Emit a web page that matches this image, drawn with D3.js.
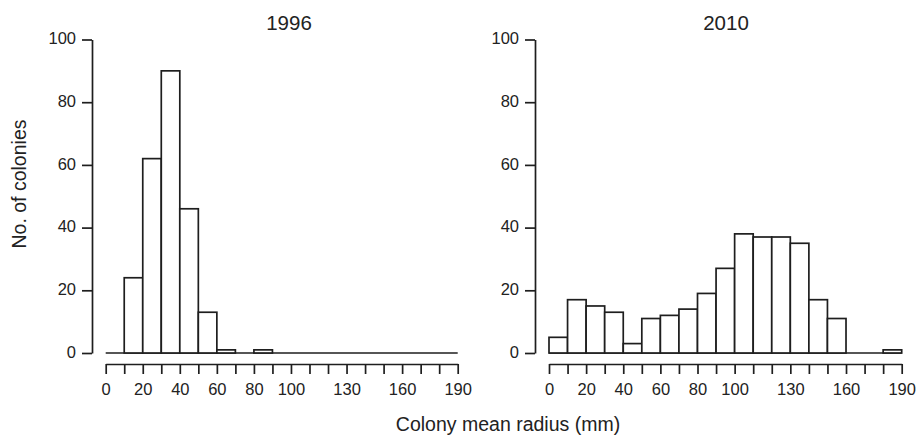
<!DOCTYPE html>
<html>
<head>
<meta charset="utf-8">
<script src="https://cdn.jsdelivr.net/npm/d3@7"></script>
<style>
  html, body { margin: 0; padding: 0; background: #fff; }
  svg { display: block; }
  text { font-family: "Liberation Sans", Arial, Helvetica, sans-serif; fill: #222; }
</style>
</head>
<body>
<svg id="chart" width="917" height="436"></svg>
<script>
// ---- data ----
const binEdges = d3.range(0, 200, 10);          // 0,10,...,190
const counts1996 = [0, 24, 62, 90, 46, 13, 1, 0, 1, 0, 0, 0, 0, 0, 0, 0, 0, 0, 0];
const counts2010 = [5, 17, 15, 13, 3, 11, 12, 14, 19, 27, 38, 37, 37, 35, 17, 11, 0, 0, 1];
const xTickValues = d3.range(0, 200, 10);
const xTickLabels = [0, 20, 40, 60, 80, 100, 130, 160, 190];
const yTickValues = [0, 20, 40, 60, 80, 100];
const panelTitles = ["1996", "2010"];
const xLabel = "Colony mean radius (mm)";
const yLabel = "No. of colonies";

// ---- layout ----
const svg = d3.select("#chart");
const ink = "#1e1e1e";
const panels = [
  { title: panelTitles[0], counts: counts1996, x0: 105.7, x1: 457.7, yAxisX: 92, titleX: 289 },
  { title: panelTitles[1], counts: counts2010, x0: 549, x1: 901.7, yAxisX: 535, titleX: 726 }
];
const yTop = 39.5, yBottom = 353, xAxisY = 364;

panels.forEach(p => {
  const x = d3.scaleLinear().domain([0, 190]).range([p.x0, p.x1]);
  const y = d3.scaleLinear().domain([0, 100]).range([yBottom, yTop]);
  const g = svg.append("g");

  // baseline of the histogram (zero-count bins drawn as a flat line)
  g.append("line")
    .attr("x1", x(binEdges[0])).attr("x2", x(binEdges[binEdges.length - 1]))
    .attr("y1", y(0)).attr("y2", y(0))
    .attr("stroke", ink).attr("stroke-width", 1.7);

  const bins = p.counts.map((c, i) => ({ lo: binEdges[i], hi: binEdges[i] + 10, c }))
    .filter(d => d.c > 0);
  g.selectAll("rect.bar").data(bins).join("rect")
    .attr("class", "bar")
    .attr("x", d => x(d.lo))
    .attr("y", d => y(d.c))
    .attr("width", d => x(d.hi) - x(d.lo))
    .attr("height", d => y(0) - y(d.c))
    .attr("fill", "#fff")
    .attr("stroke", ink)
    .attr("stroke-width", 1.7);

  // y axis
  const ya = g.append("g")
    .attr("transform", `translate(${p.yAxisX},0)`)
    .call(d3.axisLeft(y).tickValues(yTickValues).tickSize(10).tickSizeOuter(0).tickPadding(6));
  ya.selectAll("path, line").attr("stroke", ink).attr("stroke-width", 1.7);
  ya.selectAll("text").attr("font-size", 16.5).attr("fill", ink)
    .attr("font-family", "'Liberation Sans', Arial, sans-serif").attr("dy", "0.25em");

  // x axis
  const xa = g.append("g")
    .attr("transform", `translate(0,${xAxisY})`)
    .call(d3.axisBottom(x).tickValues(xTickValues).tickSize(10).tickSizeOuter(0).tickPadding(9)
      .tickFormat(v => xTickLabels.includes(v) ? String(v) : ""));
  xa.selectAll("path, line").attr("stroke", ink).attr("stroke-width", 1.7);
  xa.selectAll("text").attr("font-size", 16.5).attr("fill", ink)
    .attr("font-family", "'Liberation Sans', Arial, sans-serif");

  // title
  g.append("text")
    .attr("x", p.titleX).attr("y", 30)
    .attr("text-anchor", "middle")
    .attr("font-size", 20.5)
    .attr("fill", "#111")
    .text(p.title);
});

svg.append("text")
  .attr("x", 508).attr("y", 431)
  .attr("text-anchor", "middle")
  .attr("font-size", 19.5)
  .text(xLabel);

svg.append("text")
  .attr("transform", "translate(26,184) rotate(-90)")
  .attr("text-anchor", "middle")
  .attr("font-size", 19.5)
  .text(yLabel);
</script>
</body>
</html>
